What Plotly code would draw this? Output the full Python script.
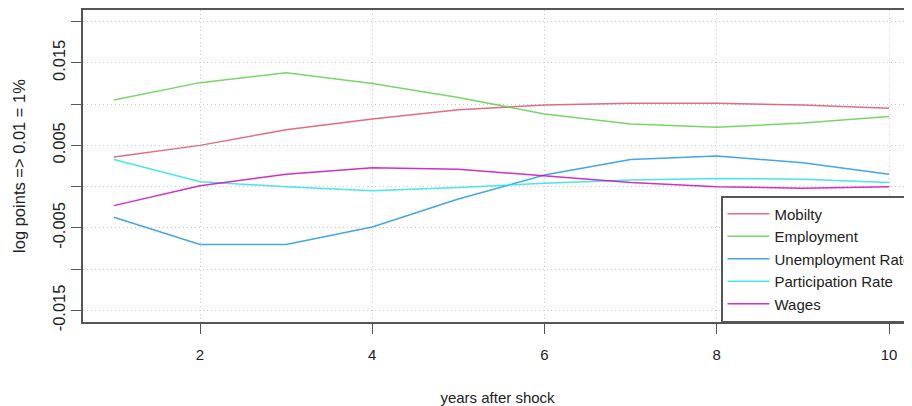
import plotly.graph_objects as go

years = [1, 2, 3, 4, 5, 6, 7, 8, 9, 10]
mobility = [0.0036, 0.0050, 0.0069, 0.0082, 0.0093, 0.0099, 0.0101, 0.0101, 0.0099, 0.0095]
employment = [0.0105, 0.0126, 0.0138, 0.0125, 0.0108, 0.0088, 0.0076, 0.0072, 0.0077, 0.0085]
unemployment = [-0.0037, -0.0070, -0.0070, -0.0049, -0.0015, 0.0014, 0.0033, 0.0037, 0.0029, 0.0015]
participation = [0.0033, 0.0006, 0.0000, -0.0005, -0.0001, 0.0004, 0.0008, 0.0010, 0.0009, 0.0005]
wages = [-0.0023, 0.0001, 0.0015, 0.0023, 0.0021, 0.0013, 0.0005, 0.0000, -0.0002, 0.0000]

series_names = ["Mobilty", "Employment", "Unemployment Rate", "Participation Rate", "Wages"]
series_values = [mobility, employment, unemployment, participation, wages]
colors = ["#DF536B", "#61D04F", "#2297E6", "#28E2E5", "#CD0BBC"]

y_tickvals = [-0.015, -0.01, -0.005, 0.0, 0.005, 0.01, 0.015, 0.02]
y_ticktext = ["-0.015", "", "-0.005", "", "0.005", "", "0.015", ""]
x_tickvals = [2, 4, 6, 8, 10]

FONT = "Liberation Sans, Arial, sans-serif"
AX = "#555555"
TXT = "#222222"
GRID = "#C8C8C8"

fig = go.Figure()
for i, (name, vals) in enumerate(zip(series_names, series_values)):
    fig.add_trace(go.Scatter(
        x=years, y=vals, mode="lines", name=name,
        legendgroup=f"g{i}",
        opacity=0.85,
        line=dict(color=colors[i], width=1.5),
    ))

# The page body has an 8px margin, so the figure is 904x398 and sits at (8, 8).
W, H = 904, 398
fig.update_layout(
    width=W, height=H,
    margin=dict(l=75, r=0, t=2, b=84, autoexpand=False),
    paper_bgcolor="white", plot_bgcolor="white",
    font=dict(family=FONT, size=15, color=TXT),
    showlegend=True,
    legend=dict(
        x=(713 - 75) / (W - 75), xanchor="left",
        y=0, yanchor="bottom",
        bgcolor="white", bordercolor=AX, borderwidth=1.5,
        font=dict(family=FONT, size=15, color=TXT),
        tracegroupgap=0,
        itemwidth=42,
    ),
    xaxis=dict(
        range=[0.6415, 10.267],
        tickvals=x_tickvals, ticktext=[str(v) for v in x_tickvals],
        tickfont=dict(size=15),
        ticks="outside", ticklen=10, tickcolor=AX, tickwidth=1,
        showline=True, linecolor=AX, linewidth=1.5, mirror=True,
        showgrid=True, gridcolor=GRID, griddash="1px,3px", gridwidth=1,
        zeroline=False,
        title=dict(text="years after shock", standoff=31, font=dict(size=15)),
        ticklabelstandoff=8,
    ),
    yaxis=dict(
        range=[-0.0164, 0.0214],
        tickvals=y_tickvals, ticktext=y_ticktext,
        tickangle=-90,
        tickfont=dict(size=16.5),
        ticks="outside", ticklen=10, tickcolor=AX, tickwidth=1,
        showline=True, linecolor=AX, linewidth=1.5, mirror=False,
        showgrid=True, gridcolor=GRID, griddash="1px,3px", gridwidth=1,
        zeroline=False,
        title=dict(text="log points => 0.01 = 1%", standoff=20, font=dict(size=16.5)),
    ),
)

fig.write_html("out.html")
